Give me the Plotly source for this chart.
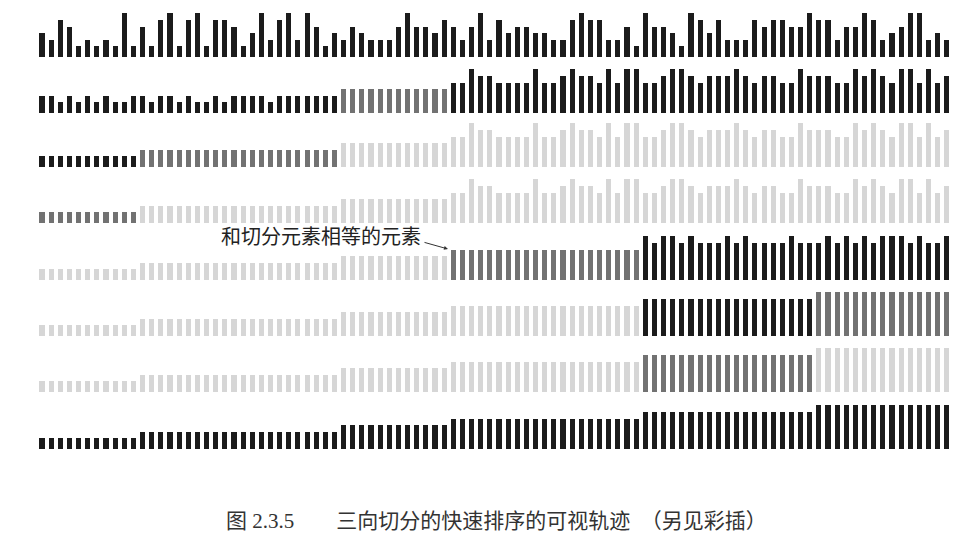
import plotly.graph_objects as go

# ---------------- data ----------------
# array positions (100 items), values 1..6 (six distinct keys)
positions = list(range(100))

# row 1: original array
row1 = [3, 2, 5, 4, 1, 2, 1, 2, 1, 6,
        1, 4, 1, 5, 6, 1, 5, 6, 1, 5,
        5, 4, 1, 3, 6, 2, 5, 6, 2, 6,
        4, 1, 3, 2, 4, 3, 2, 2, 2, 4,
        6, 4, 4, 3, 5, 4, 2, 4, 6, 2,
        5, 3, 4, 4, 3, 3, 2, 2, 5, 6,
        5, 5, 2, 2, 4, 1, 6, 4, 4, 3,
        1, 6, 5, 3, 5, 2, 2, 2, 5, 4,
        5, 5, 4, 4, 6, 5, 5, 2, 4, 4,
        6, 5, 2, 3, 4, 6, 6, 2, 3, 2]

# row 2: after partitioning on 3
row2 = [2, 2, 1, 2, 1, 2, 1, 2, 1, 1,
        2, 2, 1, 2, 2, 1, 2, 1, 1, 2,
        1, 2, 2, 2, 2, 1, 2, 2, 2, 2,
        2, 2, 2, 3, 3, 3, 3, 3, 3, 3,
        3, 3, 3, 3, 3, 4, 4, 6, 5, 5,
        4, 4, 4, 4, 6, 4, 4, 5, 6, 5,
        5, 4, 6, 4, 6, 6, 4, 4, 5, 6,
        6, 5, 4, 5, 5, 5, 6, 5, 4, 5,
        5, 4, 4, 6, 5, 5, 5, 4, 4, 6,
        5, 6, 5, 4, 6, 6, 4, 6, 4, 5]

# rows 3 and 4: left part sorted, right part as in row 2
row3 = [1, 1, 1, 1, 1, 1, 1, 1, 1, 1,
        1, 2, 2, 2, 2, 2, 2, 2, 2, 2,
        2, 2, 2, 2, 2, 2, 2, 2, 2, 2,
        2, 2, 2, 3, 3, 3, 3, 3, 3, 3,
        3, 3, 3, 3, 3, 4, 4, 6, 5, 5,
        4, 4, 4, 4, 6, 4, 4, 5, 6, 5,
        5, 4, 6, 4, 6, 6, 4, 4, 5, 6,
        6, 5, 4, 5, 5, 5, 6, 5, 4, 5,
        5, 4, 4, 6, 5, 5, 5, 4, 4, 6,
        5, 6, 5, 4, 6, 6, 4, 6, 4, 5]
row4 = list(row3)

# row 5: after partitioning the right part on 4
row5 = [1, 1, 1, 1, 1, 1, 1, 1, 1, 1,
        1, 2, 2, 2, 2, 2, 2, 2, 2, 2,
        2, 2, 2, 2, 2, 2, 2, 2, 2, 2,
        2, 2, 2, 3, 3, 3, 3, 3, 3, 3,
        3, 3, 3, 3, 3, 4, 4, 4, 4, 4,
        4, 4, 4, 4, 4, 4, 4, 4, 4, 4,
        4, 4, 4, 4, 4, 4, 6, 5, 6, 6,
        5, 6, 5, 5, 5, 6, 5, 6, 5, 5,
        5, 5, 6, 5, 5, 5, 6, 5, 6, 5,
        6, 5, 6, 6, 6, 5, 6, 5, 5, 6]

# rows 6, 7, 8: sorted
row_sorted = [1, 1, 1, 1, 1, 1, 1, 1, 1, 1,
              1, 2, 2, 2, 2, 2, 2, 2, 2, 2,
              2, 2, 2, 2, 2, 2, 2, 2, 2, 2,
              2, 2, 2, 3, 3, 3, 3, 3, 3, 3,
              3, 3, 3, 3, 3, 4, 4, 4, 4, 4,
              4, 4, 4, 4, 4, 4, 4, 4, 4, 4,
              4, 4, 4, 4, 4, 4, 5, 5, 5, 5,
              5, 5, 5, 5, 5, 5, 5, 5, 5, 5,
              5, 5, 5, 5, 5, 6, 6, 6, 6, 6,
              6, 6, 6, 6, 6, 6, 6, 6, 6, 6]

rows = [row1, row2, row3, row4, row5, row_sorted, row_sorted, row_sorted]

# role segments per row: (start, stop, role)
roles = [
    [(0, 100, "active")],
    [(0, 33, "active"), (33, 45, "equal"), (45, 100, "active")],
    [(0, 11, "active"), (11, 33, "equal"), (33, 100, "idle")],
    [(0, 11, "equal"), (11, 100, "idle")],
    [(0, 45, "idle"), (45, 66, "equal"), (66, 100, "active")],
    [(0, 66, "idle"), (66, 85, "active"), (85, 100, "equal")],
    [(0, 66, "idle"), (66, 85, "equal"), (85, 100, "idle")],
    [(0, 100, "active")],
]

annotation_text = "和切分元素相等的元素"
caption_text = "图 2.3.5\u3000\u3000三向切分的快速排序的可视轨迹\u2002（另见彩插）"

# ---------------- style ----------------
W, H = 972, 546
ROLE_COLORS = {"active": "#1b1b1b", "equal": "#727272", "idle": "#d6d6d6"}
PAD = 0.62            # bars start a little below value 0
PX_PER_UNIT = 6.6
ROW_BASELINES = [57, 113, 167, 223, 280, 336, 392, 449]  # pixel y of baseline
ROW_PX = 50
X0_PX, PITCH_PX = 42.0, 9.14

fig = go.Figure()
layout_axes = {}
for r, (vals, segs) in enumerate(zip(rows, roles)):
    colors = []
    for i in positions:
        for s, e, role in segs:
            if s <= i < e:
                colors.append(ROLE_COLORS[role])
                break
    yname = "y" if r == 0 else f"y{r + 1}"
    fig.add_trace(go.Bar(
        x=positions, y=[v + PAD for v in vals], base=-PAD,
        width=0.56, marker=dict(color=colors, line=dict(width=0)),
        xaxis="x", yaxis=yname, showlegend=False, hoverinfo="skip"))
    b = ROW_BASELINES[r]
    key = "yaxis" if r == 0 else f"yaxis{r + 1}"
    layout_axes[key] = dict(
        domain=[1 - b / H, 1 - (b - ROW_PX) / H],
        range=[-PAD, -PAD + ROW_PX / PX_PER_UNIT],
        visible=False, anchor="x", fixedrange=True)

fig.update_layout(
    width=W, height=H,
    margin=dict(l=0, r=0, t=0, b=0),
    paper_bgcolor="white", plot_bgcolor="white",
    bargap=0,
    xaxis=dict(range=[-X0_PX / PITCH_PX, (W - X0_PX) / PITCH_PX],
               visible=False, domain=[0, 1], fixedrange=True),
    **layout_axes,
)

fig.add_annotation(
    x=321 / W, y=1 - 237 / H, xref="paper", yref="paper",
    text=annotation_text, showarrow=False,
    xanchor="center", yanchor="middle",
    font=dict(family="Liberation Serif, Noto Sans CJK SC", size=20, color="#222222"))
fig.add_annotation(
    x=448 / W, y=1 - 249 / H, xref="paper", yref="paper",
    text="", showarrow=True, ax=-25, ay=-7,
    arrowhead=2, arrowsize=0.8, arrowwidth=1, arrowcolor="#333333")
fig.add_annotation(
    x=496 / W, y=1 - 521 / H, xref="paper", yref="paper",
    text=caption_text, showarrow=False,
    xanchor="center", yanchor="middle",
    font=dict(family="Liberation Serif, Noto Sans CJK SC", size=21, color="#333333"))

fig.write_html("out.html")
